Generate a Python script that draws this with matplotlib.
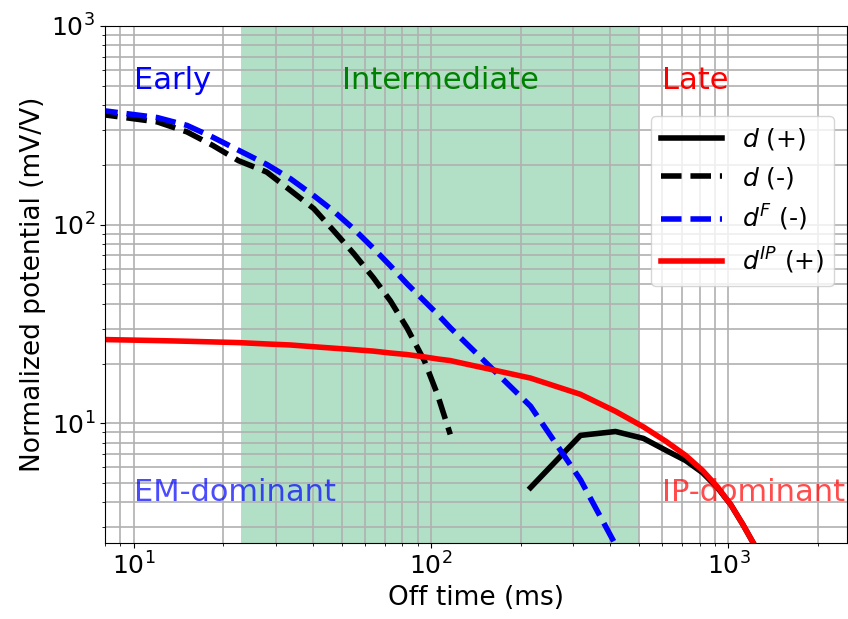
import numpy as np
import matplotlib
matplotlib.use("Agg")
import matplotlib.pyplot as plt

# off-time channels (ms)
times = [6, 8.1, 12, 15.1, 18.4, 22.5, 28, 33.7, 40.3, 47, 55, 64, 73, 83, 95, 105, 116,
         216, 318, 417, 518, 618, 718, 818, 918, 1018, 1118, 1218, 1318]

# observed data d (sign changes between 116 and 216 ms)
d_obs = [-366, -356, -329, -293, -251, -210, -184, -148.5, -120.5, -93.3, -71.4, -54.0,
         -41.3, -30.2, -20.6, -14.0, -8.8,
         4.75, 8.7, 9.1, 8.4, 7.3, 6.5, 5.65, 4.75, 3.9, 3.1, 2.47, 1.95]

# fundamental (EM) response, negative everywhere
d_F = [-385, -373, -346, -316, -276, -237, -201, -170, -140, -117, -95, -76, -62, -50.4,
       -41.2, -35.5, -30.3, -12.2, -5.2, -2.45, -1.3, -0.8, -0.55, -0.35, -0.22, -0.14,
       -0.09, -0.06, -0.04]

# IP response, positive everywhere
d_IP = [26.7, 26.4, 26.1, 25.9, 25.7, 25.5, 25.1, 24.8, 24.3, 23.9, 23.5, 23.1, 22.6, 22.2,
        21.6, 21.1, 20.7, 16.9, 14.0, 11.5, 9.6, 8.1, 6.9, 5.8, 4.8, 3.9, 3.1, 2.47, 1.95]

t = np.array(times)
d = np.array(d_obs)
dF = np.array(d_F)
dIP = np.array(d_IP)

fig = plt.figure(figsize=(8.48, 6.19), dpi=100)
ax = fig.add_axes([0.1238, 0.1228, 0.8747, 0.8352])

ax.axvspan(23, 500, color='mediumseagreen', alpha=0.4, lw=0)

ax.loglog(t, np.where(d > 0, d, np.nan), 'k-', lw=4, label=r'$d$ (+)')
ax.loglog(t, np.where(d < 0, -d, np.nan), 'k--', lw=4, label=r'$d$ (-)')
ax.loglog(t, -dF, 'b--', lw=4, label=r'$d^F$ (-)')
ax.loglog(t, dIP, 'r-', lw=4, label=r'$d^{IP}$ (+)')

ax.set_xlim(8, 2500)
ax.set_ylim(2.5, 1000)
ax.grid(True, which='both', color='#b0b0b0', lw=1.2)

tfs = 22
ax.text(10, 480, 'Early', color='b', fontsize=tfs)
ax.text(50, 480, 'Intermediate', color='g', fontsize=tfs)
ax.text(600, 480, 'Late', color='r', fontsize=tfs)
ax.text(10, 4.05, 'EM-dominant', color='b', alpha=0.7, fontsize=tfs)
ax.text(600, 4.05, 'IP-dominant', color='r', alpha=0.7, fontsize=tfs)

ax.set_xlabel('Off time (ms)', fontsize=19)
ax.set_ylabel('Normalized potential (mV/V)', fontsize=19)
ax.tick_params(labelsize=18)
ax.legend(fontsize=18, loc='upper right', bbox_to_anchor=(1.0, 0.85),
          handlelength=2.45, labelspacing=0.5)

fig.savefig('out.png', dpi=100)
